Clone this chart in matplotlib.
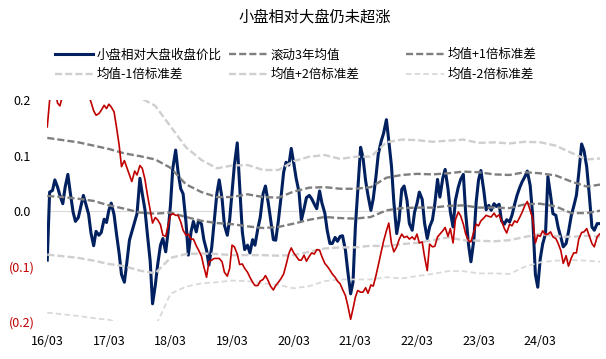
## plot.py: small cap vs large cap relative price with rolling 3y bands
# -----------------------------------------------------------------------------
import numpy as np
import pandas as pd
import matplotlib
matplotlib.use('Agg')
from matplotlib import pyplot as plt, ticker as tkr

plt.rcParams['font.family'] = ['Noto Sans CJK SC', 'DejaVu Sans']

# -----------------------------------------------------------------------------
# data: semi-monthly for the two price lines
start = '2016-03-01'
n_line = 216
blue = [
    -0.089, 0.034, 0.037, 0.056, 0.043, 0.028, 0.013, 0.043, 0.066, 0.034,
    -0.002, -0.019, -0.012, 0.007, 0.028, 0.013, -0.006, -0.040, -0.063, -0.037,
    -0.044, -0.039, -0.015, -0.021, 0.001, 0.014, -0.007, -0.041, -0.077, -0.115,
    -0.129, -0.095, -0.053, -0.038, -0.020, -0.005, 0.059, 0.031, 0.002, -0.041,
    -0.091, -0.168, -0.135, -0.098, -0.062, -0.050, -0.074, -0.038, 0.010, 0.077,
    0.110, 0.071, 0.040, 0.031, -0.020, -0.080, -0.038, -0.019, -0.038, -0.017,
    -0.024, -0.052, -0.071, -0.098, -0.065, -0.020, 0.031, 0.056, 0.022, -0.026,
    -0.044, -0.016, 0.034, 0.083, 0.123, 0.046, -0.038, -0.070, -0.062, -0.076,
    -0.052, -0.062, -0.032, -0.012, 0.031, 0.045, 0.016, -0.014, -0.052, -0.053,
    -0.017, 0.021, 0.070, 0.088, 0.083, 0.113, 0.086, 0.059, 0.034, -0.017,
    0.004, 0.024, 0.028, 0.022, 0.012, 0.004, 0.036, 0.014, -0.004, -0.035,
    -0.059, -0.059, -0.048, -0.055, -0.046, -0.045, -0.071, -0.109, -0.150, -0.129,
    -0.029, 0.036, 0.115, 0.097, 0.054, 0.028, 0.001, 0.022, 0.062, 0.103,
    0.126, 0.140, 0.165, 0.127, 0.081, 0.016, -0.041, -0.017, 0.039, 0.045,
    0.019, -0.023, -0.035, -0.002, 0.013, 0.034, 0.021, -0.022, -0.050, -0.029,
    -0.016, 0.013, 0.057, 0.025, 0.059, 0.075, 0.040, -0.002, -0.029, 0.019,
    0.043, 0.057, 0.066, -0.005, -0.062, -0.092, -0.053, 0.016, 0.056, 0.073,
    0.037, 0.002, 0.010, 0.001, 0.013, 0.008, 0.012, -0.018, -0.024, -0.016,
    -0.020, -0.008, 0.012, 0.028, 0.043, 0.053, 0.062, 0.072, 0.046, -0.005,
    -0.115, -0.138, -0.086, -0.060, -0.041, 0.062, 0.028, -0.005, -0.008, -0.030,
    -0.048, -0.065, -0.059, -0.038, -0.008, 0.008, 0.028, 0.068, 0.121, 0.109,
    0.080, 0.034, -0.029, -0.035, -0.023, -0.023]
red = [
    0.152, 0.200, 0.215, 0.220, 0.195, 0.190, 0.210, 0.230, 0.240, 0.250,
    0.250, 0.240, 0.240, 0.230, 0.230, 0.220, 0.210, 0.197, 0.181, 0.173,
    0.176, 0.182, 0.191, 0.185, 0.193, 0.188, 0.179, 0.152, 0.119, 0.080,
    0.091, 0.079, 0.065, 0.053, 0.072, 0.065, 0.082, 0.077, 0.057, 0.030,
    0.001, -0.022, -0.012, -0.016, -0.025, -0.044, -0.046, -0.026, -0.008, -0.005,
    -0.008, -0.008, -0.020, -0.035, -0.044, -0.042, -0.051, -0.051, -0.063, -0.071,
    -0.082, -0.101, -0.120, -0.092, -0.089, -0.086, -0.086, -0.086, -0.092, -0.111,
    -0.118, -0.104, -0.062, -0.065, -0.078, -0.097, -0.096, -0.104, -0.111, -0.120,
    -0.129, -0.135, -0.135, -0.127, -0.124, -0.117, -0.126, -0.136, -0.143, -0.135,
    -0.129, -0.123, -0.114, -0.098, -0.077, -0.067, -0.076, -0.082, -0.089, -0.089,
    -0.080, -0.091, -0.082, -0.076, -0.078, -0.070, -0.071, -0.083, -0.095, -0.100,
    -0.107, -0.114, -0.120, -0.127, -0.132, -0.142, -0.153, -0.171, -0.196, -0.177,
    -0.156, -0.144, -0.147, -0.147, -0.139, -0.149, -0.134, -0.136, -0.117, -0.098,
    -0.074, -0.055, -0.036, -0.022, -0.059, -0.074, -0.065, -0.052, -0.042, -0.048,
    -0.046, -0.051, -0.047, -0.052, -0.042, -0.058, -0.056, -0.083, -0.108, -0.060,
    -0.065, -0.064, -0.047, -0.042, -0.036, -0.030, -0.046, -0.032, -0.058, -0.016,
    -0.002, -0.009, -0.024, -0.042, -0.054, -0.056, -0.038, -0.024, -0.027, -0.018,
    -0.013, -0.008, -0.010, -0.011, -0.004, -0.011, -0.007, -0.018, -0.032, -0.040,
    -0.024, -0.027, -0.018, -0.021, -0.011, -0.002, 0.010, 0.017, 0.001, -0.013,
    -0.058, -0.044, -0.046, -0.036, -0.043, -0.042, -0.038, -0.047, -0.050, -0.059,
    -0.072, -0.095, -0.081, -0.100, -0.085, -0.076, -0.076, -0.051, -0.039, -0.038,
    -0.032, -0.044, -0.059, -0.065, -0.047, -0.042]

# quarterly for the rolling bands
n_band = 37
mean3y = [
    0.027, 0.025, 0.022, 0.018, 0.010, 0.004, -0.003, -0.005, -0.003, -0.011,
    -0.018, -0.022, -0.024, -0.028, -0.031, -0.029, -0.023, -0.016, -0.011, -0.013,
    -0.014, -0.011, 0.001, 0.005, 0.006, 0.006, 0.009, 0.010, 0.006, 0.006,
    0.005, 0.012, 0.013, 0.008, -0.004, -0.004, 0.001]
up1 = [
    0.132, 0.128, 0.124, 0.118, 0.112, 0.104, 0.099, 0.093, 0.078, 0.048,
    0.034, 0.025, 0.025, 0.030, 0.025, 0.024, 0.035, 0.042, 0.043, 0.040,
    0.040, 0.043, 0.060, 0.065, 0.067, 0.066, 0.068, 0.071, 0.070, 0.066,
    0.065, 0.070, 0.068, 0.064, 0.053, 0.044, 0.048]
up2 = [
    0.260, 0.250, 0.240, 0.235, 0.225, 0.215, 0.205, 0.190, 0.153, 0.115,
    0.092, 0.077, 0.082, 0.083, 0.074, 0.074, 0.090, 0.098, 0.101, 0.094,
    0.098, 0.098, 0.124, 0.129, 0.128, 0.125, 0.127, 0.129, 0.123, 0.124,
    0.122, 0.125, 0.124, 0.118, 0.105, 0.093, 0.095]
dn1 = [
    -0.079, -0.082, -0.085, -0.090, -0.096, -0.100, -0.108, -0.113, -0.085, -0.078,
    -0.077, -0.078, -0.080, -0.080, -0.080, -0.081, -0.080, -0.074, -0.068, -0.066,
    -0.066, -0.063, -0.064, -0.060, -0.058, -0.053, -0.048, -0.053, -0.054, -0.055,
    -0.053, -0.047, -0.042, -0.046, -0.047, -0.045, -0.047]
dn2 = [
    -0.184, -0.187, -0.190, -0.194, -0.197, -0.205, -0.212, -0.210, -0.150, -0.137,
    -0.131, -0.129, -0.126, -0.127, -0.131, -0.134, -0.140, -0.136, -0.127, -0.124,
    -0.124, -0.124, -0.120, -0.122, -0.118, -0.114, -0.109, -0.109, -0.113, -0.113,
    -0.114, -0.101, -0.093, -0.090, -0.089, -0.090, -0.092]

labels = ['小盘相对大盘收盘价比', '滚动3年均值', '均值+1倍标准差',
          '均值-1倍标准差', '均值+2倍标准差', '均值-2倍标准差']
title = '小盘相对大盘仍未超涨'

dates_line = pd.date_range(start, periods=n_line, freq='SMS')
dates_band = pd.date_range(start, periods=n_band, freq='QS-MAR')

# -----------------------------------------------------------------------------
navy, crimson = '#002060', '#C00000'
dark, light, lighter = '#7F7F7F', '#D0CECE', '#D9D9D9'

fig = plt.figure(figsize=(6.06, 3.59), dpi=100)
ax = fig.add_axes([0.078, 0.1045, 0.9113, 0.6161])

ax.axhline(0, color='#D9D9D9', linewidth=0.8, zorder=1)
l_blue, = ax.plot(dates_line, blue, color=navy, linewidth=2.2, zorder=2)
l_mean, = ax.plot(dates_band, mean3y, color=dark, linewidth=1.7, dashes=(3, 1.3), zorder=3)
l_up1, = ax.plot(dates_band, up1, color=dark, linewidth=1.7, dashes=(3, 1.3), zorder=3)
l_dn1, = ax.plot(dates_band, dn1, color=light, linewidth=1.7, dashes=(3, 1.3), zorder=3)
l_up2, = ax.plot(dates_band, up2, color=light, linewidth=1.7, dashes=(3, 1.3), zorder=3)
l_dn2, = ax.plot(dates_band, dn2, color=lighter, linewidth=1.3, dashes=(3, 1.8), zorder=3)
ax.plot(dates_line, red, color=crimson, linewidth=1.2, zorder=4)

ax.set_xlim(dates_line[0], dates_line[-1])
ax.set_ylim(-0.2, 0.2)
for side in ax.spines:
    ax.spines[side].set_visible(False)

ax.set_xticks(pd.date_range('2016-03-01', periods=9, freq='12MS'))
ax.xaxis.set_major_formatter(matplotlib.dates.DateFormatter('%y/%m'))
ax.set_yticks([-0.2, -0.1, 0.0, 0.1, 0.2])
ax.yaxis.set_major_formatter(tkr.FuncFormatter(
    lambda v, p: f'({abs(v):.1f})' if v < -1e-9 else f'{v:.1f}'))
ax.tick_params(axis='x', length=0, pad=10, labelsize=9)
ax.tick_params(axis='y', length=0, pad=18, labelsize=9)
for t in ax.get_yticklabels():
    t.set_horizontalalignment('center')
    if '(' in t.get_text():
        t.set_color(crimson)

fig.text(0.52, 0.953, title, ha='center', va='center', fontsize=11)

# legends: three fixed columns of two rows each
handles = [l_blue, l_mean, l_up1, l_dn1, l_up2, l_dn2]
col_x = [55, 229, 406]
for c in range(3):
    hs = [handles[c], handles[c + 3]]
    ls = [labels[c], labels[c + 3]]
    fig.legend(hs, ls, loc='upper left', bbox_to_anchor=(col_x[c] / 606, 0.865),
               frameon=False, fontsize=9, handlelength=3.0, handletextpad=0.32,
               borderpad=0, borderaxespad=0, labelspacing=0.55)

fig.savefig('out.png', dpi=100)
